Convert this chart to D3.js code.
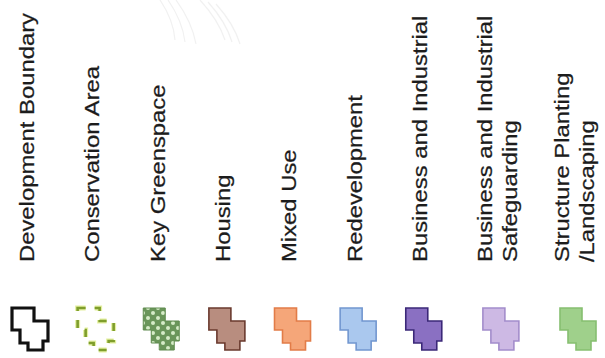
<!DOCTYPE html>
<html>
<head>
<meta charset="utf-8">
<script src="https://cdn.jsdelivr.net/npm/d3@7"></script>
<style>
  html, body { margin: 0; padding: 0; background: #fff; }
  svg { display: block; }
</style>
</head>
<body>
<svg id="chart" width="605" height="358"></svg>
<script>
// ---- data ----
const categories = [
  "Development Boundary",
  "Conservation Area",
  "Key Greenspace",
  "Housing",
  "Mixed Use",
  "Redevelopment",
  "Business and Industrial",
  "Business and Industrial|Safeguarding",
  "Structure Planting|/Landscaping"
];
const symbolTypes = ["outline", "dashed", "dotted", "fill", "fill", "fill", "fill", "fill", "fill"];

// ---- styles ----
const fillColors   = ["none", "none", "#6a965a", "#b88d7f", "#f5a679", "#aac8ee", "#8a70c2", "#cdb9e4", "#9fd08b"];
const strokeColors = ["#111111", "#7f9e2c", "#5f8a4e", "#6a3a2e", "#e27c48", "#7297d0", "#3b2878", "#a38dcb", "#86bf70"];

const svg = d3.select("#chart");

// column layout: two-line labels take a wider column
const lines = categories.map(c => c.split("|"));
const gaps = lines.map((l, i) => i === 0 ? 0 : 1 + 0.175 * (l.length - 1));
const cum = [];
gaps.reduce((a, g, i) => (cum[i] = a + g), 0);
const x = d3.scaleLinear().domain([0, cum[cum.length - 1]]).range([30, 578]);

// pattern for key greenspace
const defs = svg.append("defs");
const pat = defs.append("pattern").attr("id", "dots").attr("patternUnits", "userSpaceOnUse")
  .attr("width", 10).attr("height", 10);
pat.append("rect").attr("width", 10).attr("height", 10).attr("fill", fillColors[2]);
pat.append("circle").attr("cx", 3).attr("cy", 3).attr("r", 2).attr("fill", "#d6ecc8");
pat.append("circle").attr("cx", 8).attr("cy", 8).attr("r", 2).attr("fill", "#d6ecc8");

// faint ghost strokes at top (scan artefact)
const ghost = svg.append("g").attr("fill", "none").attr("stroke", "#f1f1f1").attr("stroke-width", 1.2);
[[160,0,175,40],[168,0,185,42],[176,0,196,44],[200,0,225,40],[208,2,232,42],[216,4,240,44]].forEach(s => {
  ghost.append("path").attr("d", `M${s[0]},${s[1]} Q${(s[0]+s[2])/2+6},${(s[1]+s[3])/2} ${s[2]},${s[3]}`);
});

// symbol shape (stepped block)
const shapePts = [[0,0],[22,0],[22,13],[36,13],[36,33],[31,33],[31,42],[16,42],[16,35],[8,35],[8,22],[0,22]];
const line = d3.line().curve(d3.curveLinearClosed);
const iconTop = 308;

const cols = svg.selectAll("g.col").data(categories).join("g").attr("class", "col");

cols.each(function(d, i) {
  const g = d3.select(this);
  const cx = x(cum[i]);
  const pts = shapePts.map(p => [cx - 18 + p[0], iconTop + p[1]]);
  const t = symbolTypes[i];
  const path = g.append("path").attr("d", line(pts)).attr("stroke-linejoin", "miter");
  if (t === "outline") {
    path.attr("fill", "none").attr("stroke", strokeColors[i]).attr("stroke-width", 3.2);
  } else if (t === "dashed") {
    g.insert("path", ":first-child").attr("d", line(pts)).attr("fill", "none")
      .attr("stroke", "#e4f0a0").attr("stroke-width", 5).attr("stroke-dasharray", "8,9");
    path.attr("fill", "none").attr("stroke", strokeColors[i]).attr("stroke-width", 2.6)
      .attr("stroke-dasharray", "8,9");
  } else if (t === "dotted") {
    path.attr("fill", "url(#dots)").attr("stroke", strokeColors[i]).attr("stroke-width", 1);
  } else {
    path.attr("fill", fillColors[i]).attr("stroke", strokeColors[i]).attr("stroke-width", 1.6);
  }

  // label (rotated, stretched along its length)
  const ls = lines[i];
  const fs = 21, lh = 25, cap = 15;
  const blockCenter = cx - 4;
  const firstBase = blockCenter - (cap + lh * (ls.length - 1)) / 2 + cap;
  ls.forEach((txt, k) => {
    g.append("text")
      .attr("transform", `translate(${firstBase + k * lh},262) scale(1,1.135) rotate(-90)`)
      .attr("font-family", "Liberation Sans, Arial, sans-serif")
      .attr("font-size", fs)
      .attr("fill", "#1c1c1c")
      .attr("stroke", "#1c1c1c")
      .attr("stroke-width", 0.25)
      .text(txt);
  });
});
</script>
</body>
</html>
